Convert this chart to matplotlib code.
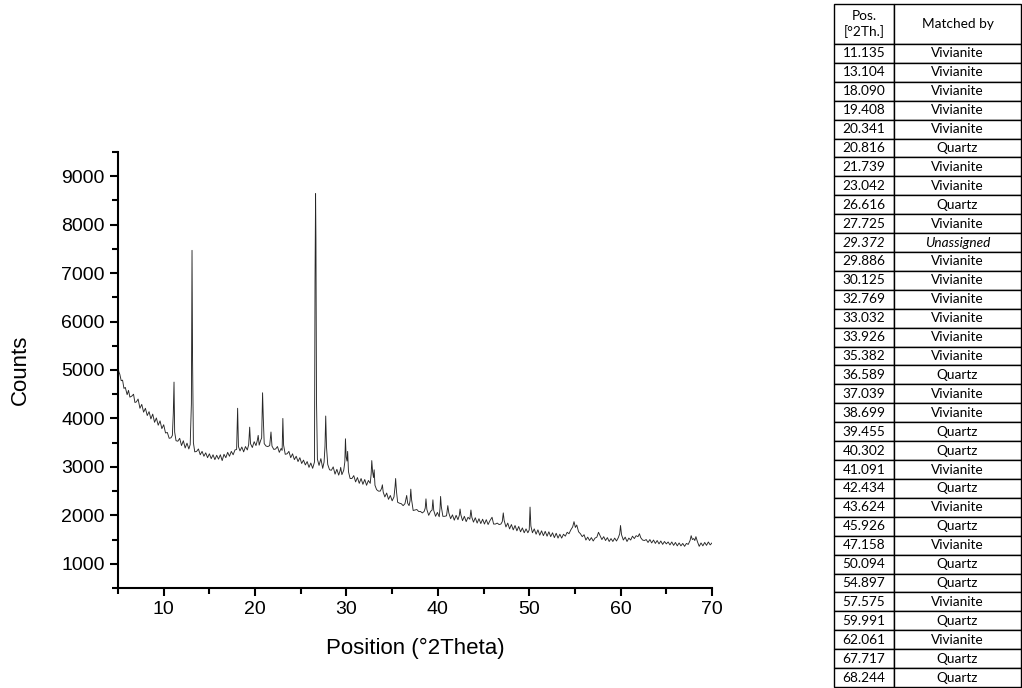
import matplotlib
matplotlib.use("Agg")
import matplotlib.pyplot as plt
from matplotlib.ticker import MultipleLocator

# XRD scan (2theta in degrees, counts)
two_theta = [
    5.00, 5.10, 5.20, 5.35, 5.50, 5.65, 5.80, 6.00, 6.15, 6.30,
    6.50, 6.70, 6.85, 7.00, 7.20, 7.40, 7.60, 7.80, 8.00, 8.20,
    8.40, 8.60, 8.80, 9.00, 9.20, 9.40, 9.60, 9.80, 10.00, 10.20,
    10.40, 10.60, 10.80, 10.95, 11.05, 11.13, 11.20, 11.35, 11.55, 11.75,
    11.95, 12.15, 12.35, 12.55, 12.75, 12.90, 13.03, 13.10, 13.16, 13.25,
    13.40, 13.60, 13.80, 14.00, 14.20, 14.40, 14.60, 14.80, 15.00, 15.20,
    15.40, 15.60, 15.80, 16.00, 16.20, 16.40, 16.60, 16.80, 17.00, 17.20,
    17.40, 17.60, 17.80, 17.98, 18.09, 18.18, 18.35, 18.55, 18.75, 18.95,
    19.15, 19.30, 19.41, 19.50, 19.70, 19.90, 20.10, 20.25, 20.34, 20.45,
    20.60, 20.72, 20.82, 20.90, 21.00, 21.20, 21.40, 21.60, 21.74, 21.85,
    22.05, 22.25, 22.45, 22.65, 22.85, 22.96, 23.04, 23.12, 23.30, 23.50,
    23.70, 23.90, 24.10, 24.30, 24.50, 24.70, 24.90, 25.10, 25.30, 25.50,
    25.70, 25.90, 26.10, 26.30, 26.50, 26.56, 26.62, 26.66, 26.72, 26.82,
    27.00, 27.20, 27.40, 27.55, 27.65, 27.73, 27.82, 27.95, 28.15, 28.35,
    28.55, 28.75, 28.95, 29.15, 29.30, 29.37, 29.50, 29.70, 29.82, 29.89,
    29.97, 30.06, 30.13, 30.22, 30.40, 30.60, 30.80, 31.00, 31.20, 31.40,
    31.60, 31.80, 32.00, 32.20, 32.40, 32.60, 32.70, 32.77, 32.86, 32.96,
    33.03, 33.12, 33.30, 33.50, 33.70, 33.85, 33.93, 34.02, 34.20, 34.40,
    34.60, 34.80, 35.00, 35.20, 35.32, 35.38, 35.47, 35.60, 35.80, 36.00,
    36.20, 36.40, 36.59, 36.70, 36.85, 36.96, 37.04, 37.12, 37.30, 37.50,
    37.70, 37.90, 38.10, 38.30, 38.50, 38.62, 38.70, 38.80, 39.00, 39.20,
    39.37, 39.46, 39.55, 39.75, 39.95, 40.15, 40.24, 40.30, 40.38, 40.55,
    40.75, 40.95, 41.09, 41.20, 41.40, 41.60, 41.80, 42.00, 42.20, 42.35,
    42.43, 42.52, 42.70, 42.90, 43.10, 43.30, 43.50, 43.62, 43.72, 43.90,
    44.10, 44.30, 44.50, 44.70, 44.90, 45.10, 45.30, 45.50, 45.70, 45.93,
    46.10, 46.30, 46.50, 46.70, 46.90, 47.05, 47.16, 47.25, 47.45, 47.65,
    47.85, 48.05, 48.25, 48.45, 48.65, 48.85, 49.05, 49.25, 49.45, 49.65,
    49.85, 50.00, 50.09, 50.18, 50.35, 50.55, 50.75, 50.95, 51.15, 51.35,
    51.55, 51.75, 51.95, 52.15, 52.35, 52.55, 52.75, 52.95, 53.15, 53.35,
    53.55, 53.75, 53.95, 54.15, 54.35, 54.55, 54.75, 54.90, 55.05, 55.20,
    55.40, 55.60, 55.80, 56.00, 56.20, 56.40, 56.60, 56.80, 57.00, 57.20,
    57.40, 57.58, 57.75, 57.95, 58.15, 58.35, 58.55, 58.75, 58.95, 59.15,
    59.35, 59.55, 59.75, 59.90, 59.99, 60.10, 60.30, 60.50, 60.70, 60.90,
    61.10, 61.30, 61.50, 61.70, 61.90, 62.06, 62.20, 62.40, 62.60, 62.80,
    63.00, 63.20, 63.40, 63.60, 63.80, 64.00, 64.20, 64.40, 64.60, 64.80,
    65.00, 65.20, 65.40, 65.60, 65.80, 66.00, 66.20, 66.40, 66.60, 66.80,
    67.00, 67.20, 67.40, 67.60, 67.72, 67.85, 68.00, 68.12, 68.24, 68.40,
    68.60, 68.80, 69.00, 69.20, 69.40, 69.60, 69.80, 70.00,
]
counts = [
    5050, 4960, 4910, 4780, 4790, 4620, 4640, 4490, 4580, 4440,
    4460, 4500, 4330, 4340, 4400, 4210, 4290, 4130, 4210, 4060,
    4140, 3990, 4090, 3920, 4010, 3860, 3950, 3790, 3870, 3700,
    3710, 3590, 3600, 3650, 4100, 4750, 3720, 3540, 3530, 3590,
    3440, 3540, 3390, 3490, 3370, 3460, 4300, 7470, 5200, 3500,
    3310, 3320, 3370, 3250, 3320, 3220, 3290, 3190, 3270, 3170,
    3250, 3150, 3240, 3160, 3250, 3130, 3260, 3190, 3300, 3220,
    3320, 3250, 3350, 3360, 4210, 3420, 3330, 3410, 3310, 3420,
    3350, 3460, 3820, 3480, 3400, 3520, 3440, 3550, 3650, 3450,
    3540, 3600, 4530, 4000, 3480, 3430, 3420, 3440, 3720, 3430,
    3360, 3370, 3420, 3300, 3380, 3340, 4000, 3450, 3260, 3270,
    3320, 3190, 3270, 3150, 3220, 3110, 3190, 3070, 3140, 3040,
    3110, 2990, 3080, 2970, 3100, 6850, 8640, 7700, 4400, 3160,
    3030, 3170, 2970, 3100, 3420, 4050, 3400, 3050, 2940, 2930,
    3000, 2850, 2950, 2830, 2920, 2990, 2840, 2930, 3100, 3580,
    3200, 3120, 3320, 2900, 2760, 2760, 2820, 2690, 2780, 2660,
    2760, 2640, 2740, 2620, 2720, 2660, 2850, 3130, 2900, 2780,
    2940, 2620, 2530, 2500, 2500, 2560, 2630, 2480, 2380, 2460,
    2330, 2410, 2300, 2380, 2600, 2760, 2500, 2270, 2250, 2240,
    2200, 2240, 2410, 2250, 2200, 2300, 2540, 2330, 2100, 2110,
    2120, 2080, 2080, 2050, 2080, 2150, 2340, 2120, 2000, 2080,
    2110, 2320, 2100, 1980, 2060, 1970, 2150, 2390, 2180, 1980,
    1980, 1990, 2200, 2050, 1930, 2010, 1900, 2000, 1910, 2000,
    2130, 2010, 1890, 1980, 1870, 1960, 1920, 2110, 1960, 1860,
    1950, 1840, 1930, 1830, 1920, 1820, 1910, 1810, 1890, 1960,
    1820, 1820, 1840, 1810, 1820, 1870, 2050, 1900, 1760, 1840,
    1720, 1810, 1700, 1790, 1680, 1770, 1660, 1740, 1640, 1720,
    1640, 1700, 2170, 1780, 1640, 1720, 1610, 1700, 1590, 1680,
    1580, 1670, 1570, 1660, 1560, 1640, 1540, 1630, 1530, 1610,
    1530, 1610, 1570, 1650, 1620, 1700, 1760, 1870, 1750, 1800,
    1660, 1620, 1560, 1600, 1490, 1550, 1480, 1540, 1470, 1530,
    1550, 1650, 1580, 1500, 1560, 1480, 1540, 1460, 1520, 1460,
    1530, 1470, 1540, 1620, 1790, 1600, 1490, 1550, 1460, 1530,
    1490, 1570, 1520, 1580, 1560, 1620, 1540, 1490, 1480, 1500,
    1440, 1500, 1430, 1490, 1420, 1480, 1410, 1470, 1400, 1460,
    1410, 1450, 1390, 1450, 1380, 1440, 1370, 1430, 1370, 1420,
    1360, 1420, 1400, 1480, 1580, 1500, 1520, 1480, 1560, 1460,
    1360, 1430, 1370, 1440, 1380, 1450, 1390, 1430,
]
assert len(two_theta) == len(counts)

# peak list table
peak_pos = ["11.135", "13.104", "18.090", "19.408", "20.341", "20.816", "21.739",
            "23.042", "26.616", "27.725", "29.372", "29.886", "30.125", "32.769",
            "33.032", "33.926", "35.382", "36.589", "37.039", "38.699", "39.455",
            "40.302", "41.091", "42.434", "43.624", "45.926", "47.158", "50.094",
            "54.897", "57.575", "59.991", "62.061", "67.717", "68.244"]
matched_by = ["Vivianite", "Vivianite", "Vivianite", "Vivianite", "Vivianite", "Quartz",
              "Vivianite", "Vivianite", "Quartz", "Vivianite", "Unassigned", "Vivianite",
              "Vivianite", "Vivianite", "Vivianite", "Vivianite", "Vivianite", "Quartz",
              "Vivianite", "Vivianite", "Quartz", "Quartz", "Vivianite", "Quartz",
              "Vivianite", "Quartz", "Vivianite", "Quartz", "Quartz", "Vivianite",
              "Quartz", "Vivianite", "Quartz", "Quartz"]
col_labels = ["Pos.\n[°2Th.]", "Matched by"]

plt.rcParams['font.family'] = ['Liberation Sans', 'DejaVu Sans']

fig = plt.figure(figsize=(10.22, 6.88), dpi=100)

# pattern
ax = fig.add_axes([118 / 1022, 100 / 688, 594 / 1022, 436 / 688])
ax.plot(two_theta, counts, color='#262626', linewidth=0.65)
ax.set_xlim(5, 70)
ax.set_ylim(500, 9500)
ax.xaxis.set_minor_locator(MultipleLocator(5))
ax.yaxis.set_minor_locator(MultipleLocator(500))
ax.set_xticks([10, 20, 30, 40, 50, 60, 70])
ax.set_yticks(range(1000, 9001, 1000))
for side in ['top', 'right']:
    ax.spines[side].set_visible(False)
for side in ['left', 'bottom']:
    ax.spines[side].set_linewidth(1.5)
ax.tick_params(which='major', direction='out', length=6, width=1.5, labelsize=14)
ax.tick_params(which='minor', direction='out', length=4, width=1.5)
ax.set_xlabel("Position (°2Theta)", fontsize=16, labelpad=14)
ax.set_ylabel("Counts", fontsize=16, labelpad=22)

# table on the right
tax = fig.add_axes([834 / 1022, 1 / 688, 187 / 1022, 683 / 688])
tax.axis('off')
rows = [[p, m] for p, m in zip(peak_pos, matched_by)]
tbl = tax.table(cellText=rows, colLabels=col_labels, cellLoc='center',
                colWidths=[60 / 187, 127 / 187], bbox=[0, 0, 1, 1])
tbl.auto_set_font_size(False)
n = len(rows)
head_h = 40 / 683
row_h = (1 - head_h) / n
for (r, c), cell in tbl.get_celld().items():
    cell.set_height(head_h if r == 0 else row_h)
    cell.set_linewidth(1.0)
    cell.set_edgecolor('black')
    txt = cell.get_text()
    txt.set_fontfamily(['Lato', 'DejaVu Sans'])
    txt.set_fontsize(9.8)
    if r > 0 and matched_by[r - 1] == "Unassigned":
        txt.set_fontstyle('italic')

fig.savefig("out.png", dpi=100)
